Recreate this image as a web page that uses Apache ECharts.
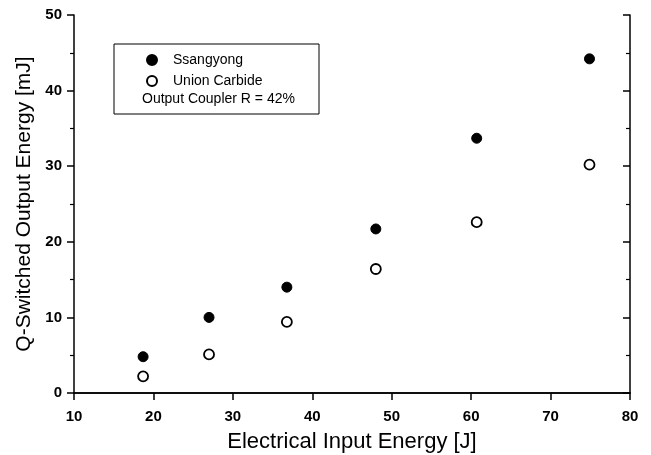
<!DOCTYPE html>
<html>
<head>
<meta charset="utf-8">
<script src="https://cdn.jsdelivr.net/npm/echarts@6/dist/echarts.min.js"></script>
<style>
  html, body { margin: 0; padding: 0; background: #fff; }
  #main { width: 651px; height: 455px; }
</style>
</head>
<body>
<div id="main"></div>
<script>
  // electrical input energy [J]
  const inputEnergy = [18.7, 27.0, 36.8, 48.0, 60.7, 74.9];
  // Q-switched output energy [mJ]
  const ssangyong = [4.8, 10.0, 14.0, 21.7, 33.7, 44.2];
  const unionCarbide = [2.2, 5.1, 9.4, 16.4, 22.6, 30.2];
  const seriesNames = ['Ssangyong', 'Union Carbide'];
  const noteText = 'Output Coupler R = 42%';

  const font = '"Liberation Sans", Arial, sans-serif';

  function pairs(ys) {
    return inputEnergy.map((x, i) => [x, ys[i]]);
  }

  let chart = echarts.init(document.getElementById('main'));

  const lineStyle = { color: '#000', width: 1.5 };
  const tickLabel = { fontFamily: font, fontSize: 15, fontWeight: 'bold', color: '#000' };

  chart.setOption({
    backgroundColor: '#fff',
    animation: false,
    grid: { left: 74, right: 21, top: 15, bottom: 62, outerBoundsMode: 'none' },
    legend: {
      data: seriesNames,
      orient: 'vertical',
      left: 141,
      top: 47,
      itemWidth: 32,
      itemHeight: 10,
      itemGap: 5,
      textStyle: { fontFamily: font, fontSize: 14, color: '#000', lineHeight: 16 }
    },
    graphic: [
      {
        type: 'rect',
        shape: { x: 114, y: 44, width: 205, height: 70 },
        style: { fill: 'none', stroke: '#000', lineWidth: 1 }
      },
      {
        type: 'text',
        x: 142,
        y: 99,
        style: { text: noteText, font: '14px ' + font, fill: '#000', verticalAlign: 'middle' }
      }
    ],
    xAxis: [
      {
        type: 'value',
        position: 'bottom',
        min: 10, max: 80, interval: 10,
        name: 'Electrical Input Energy [J]',
        nameLocation: 'middle',
        nameGap: 38,
        nameTextStyle: { fontFamily: font, fontSize: 22, color: '#000' },
        axisLine: { lineStyle: lineStyle },
        axisTick: { inside: false, length: 7, lineStyle: lineStyle },
        axisLabel: Object.assign({ margin: 16 }, tickLabel),
        splitLine: { show: false }
      },
      {
        type: 'value',
        position: 'top',
        min: 10, max: 80, interval: 10,
        axisLine: { lineStyle: lineStyle },
        axisTick: { inside: true, length: 7, lineStyle: lineStyle },
        axisLabel: { show: false },
        splitLine: { show: false }
      }
    ],
    yAxis: [
      {
        type: 'value',
        position: 'left',
        min: 0, max: 50, interval: 10,
        name: 'Q-Switched Output Energy [mJ]',
        nameLocation: 'middle',
        nameGap: 36,
        nameTextStyle: { fontFamily: font, fontSize: 21, color: '#000' },
        axisLine: { lineStyle: lineStyle },
        axisTick: { inside: false, length: 7, lineStyle: lineStyle },
        minorTick: { show: true, splitNumber: 2, length: 4, lineStyle: { color: '#000', width: 1.2 } },
        axisLabel: Object.assign({ margin: 12 }, tickLabel),
        splitLine: { show: false }
      },
      {
        type: 'value',
        position: 'right',
        min: 0, max: 50, interval: 10,
        axisLine: { lineStyle: lineStyle },
        axisTick: { inside: true, length: 7, lineStyle: lineStyle },
        minorTick: { show: true, splitNumber: 2, length: 4, lineStyle: { color: '#000', width: 1.2 } },
        axisLabel: { show: false },
        splitLine: { show: false }
      }
    ],
    series: [
      {
        name: seriesNames[0],
        type: 'scatter',
        symbol: 'circle',
        symbolSize: 10,
        itemStyle: { color: '#000', borderColor: '#000', borderWidth: 1, opacity: 1 },
        data: pairs(ssangyong)
      },
      {
        name: seriesNames[1],
        type: 'scatter',
        symbol: 'circle',
        symbolSize: 10,
        itemStyle: { color: '#fff', borderColor: '#000', borderWidth: 1.8, opacity: 1 },
        data: pairs(unionCarbide)
      }
    ]
  });
</script>
</body>
</html>
